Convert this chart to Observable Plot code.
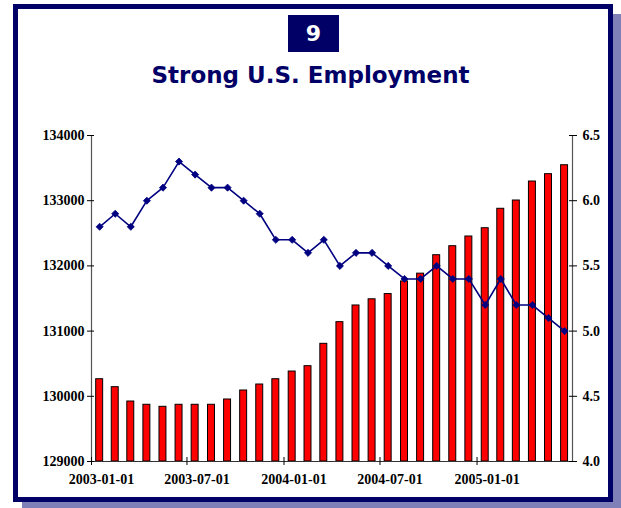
<!DOCTYPE html>
<html>
<head>
<meta charset="utf-8">
<script src="https://cdn.jsdelivr.net/npm/d3@7"></script>
<script src="https://cdn.jsdelivr.net/npm/@observablehq/plot@0.6"></script>
<style>
  body { margin: 0; background: #fff; }
  #wrap { position: relative; width: 621px; height: 508px; overflow: hidden; background: #fff; }
  #frame { position: absolute; left: 13px; top: 4px; width: 600px; height: 498px; box-sizing: border-box;
           border: 5px solid #000066; box-shadow: 9px 10px 0 0 #8080b8; background: #fff; }
  #badge { position: absolute; left: 288px; top: 15px; width: 51px; height: 37px; background: #000066; color: #fff;
           font: bold 22px "DejaVu Sans", sans-serif; display: flex; align-items: center; justify-content: center; }
  #title { position: absolute; left: 0; top: 64px; width: 621px; text-align: center; color: #000066;
           font: bold 23px/23px "DejaVu Sans", sans-serif; }
  #chart { position: absolute; left: 0; top: 100px; }
</style>
</head>
<body>
<div id="wrap">
  <div id="frame"></div>
  <div id="chart"></div>
  <div id="badge">9</div>
  <div id="title">Strong U.S. Employment</div>
</div>
<script>
// ---- data ----
const months = [
  "2003-01","2003-02","2003-03","2003-04","2003-05","2003-06","2003-07","2003-08","2003-09","2003-10","2003-11","2003-12",
  "2004-01","2004-02","2004-03","2004-04","2004-05","2004-06","2004-07","2004-08","2004-09","2004-10","2004-11","2004-12",
  "2005-01","2005-02","2005-03","2005-04","2005-05","2005-06"
];
// nonfarm payroll employment (thousands), left axis
const payrolls = [
  130262, 130140, 129920, 129870, 129839, 129870, 129870, 129870, 129951, 130089, 130181, 130262,
  130380, 130462, 130805, 131137, 131393, 131488, 131568, 131762, 131881, 132164, 132302, 132451,
  132578, 132876, 133003, 133294, 133407, 133544
];
// unemployment rate (%), right axis
const unemployment = [
  5.8, 5.9, 5.8, 6.0, 6.1, 6.3, 6.2, 6.1, 6.1, 6.0, 5.9, 5.7,
  5.7, 5.6, 5.7, 5.5, 5.6, 5.6, 5.5, 5.4, 5.4, 5.5, 5.4, 5.4,
  5.2, 5.4, 5.2, 5.2, 5.1, 5.0
];
const leftTicks = [129000, 130000, 131000, 132000, 133000, 134000];
const rightTicks = [4.0, 4.5, 5.0, 5.5, 6.0, 6.5];
const xTickLabels = ["2003-01-01", "2003-07-01", "2004-01-01", "2004-07-01", "2005-01-01"];
const xDomainLabels = ["2003-01-01", "2005-07-01"];

// ---- mapping of right axis onto left axis ----
const L0 = leftTicks[0], L1 = leftTicks[leftTicks.length - 1];
const R0 = rightTicks[0], R1 = rightTicks[rightTicks.length - 1];
const toLeft = u => L0 + (u - R0) / (R1 - R0) * (L1 - L0);
const fromLeft = v => R0 + (v - L0) / (L1 - L0) * (R1 - R0);

const parseMonth = d3.utcParse("%Y-%m");
const DAY = 864e5;
const HALF = 6.6 * DAY; // half bar width
const rows = months.map((m, i) => {
  const start = parseMonth(m);
  const end = d3.utcMonth.offset(start, 1);
  const mid = new Date((+start + +end) / 2);
  return { mid, x1: new Date(+mid - HALF), x2: new Date(+mid + HALF), payroll: payrolls[i], unemp: unemployment[i] };
});
const xTicks = xTickLabels.map(d => d3.isoParse(d));
const xDomain = xDomainLabels.map(d => d3.isoParse(d));

const chart = Plot.plot({
  width: 621,
  height: 408,
  marginTop: 35,
  marginBottom: 47,
  marginLeft: 91,
  marginRight: 49,
  style: { background: "transparent", fontFamily: "'Liberation Serif', serif", fontSize: "14px", fontWeight: "bold", color: "#000" },
  x: { type: "utc", domain: xDomain },
  y: { domain: [L0, L1] },
  marks: [
    Plot.rect(rows, { x1: "x1", x2: "x2", y1: L0, y2: "payroll", fill: "#ff0000", stroke: "#000", strokeWidth: 1 }),
    Plot.ruleX([xDomain[0], xDomain[1]], { stroke: "#555", strokeWidth: 1.2 }),
    Plot.ruleY([L0], { stroke: "#333", strokeWidth: 1.2 }),
    Plot.line(rows, { x: "mid", y: d => toLeft(d.unemp), stroke: "#000080", strokeWidth: 1.6 }),
    Plot.dot(rows, { x: "mid", y: d => toLeft(d.unemp), symbol: "diamond2", r: 3.2, fill: "#000080", stroke: "#000080", strokeWidth: 0.8 }),
    // left axis
    Plot.axisY(leftTicks, { anchor: "left", label: null, tickSize: 7, dx: 3, tickFormat: () => "" }),
    Plot.axisY(leftTicks, { anchor: "left", label: null, tickSize: 0, tickPadding: 7, tickFormat: d => String(d) }),
    // right axis
    Plot.axisY(rightTicks.map(toLeft), { anchor: "right", label: null, tickSize: 8, dx: -4, tickFormat: () => "" }),
    Plot.axisY(rightTicks.map(toLeft), { anchor: "right", label: null, tickSize: 0, tickPadding: 10, tickFormat: v => fromLeft(v).toFixed(1) }),
    // bottom axis
    Plot.axisX(xTicks, { anchor: "bottom", label: null, tickSize: 8, dy: -4, tickFormat: () => "" }),
    Plot.axisX(xTicks, { anchor: "bottom", label: null, tickSize: 0, tickPadding: 13, dx: 10, tickFormat: d3.utcFormat("%Y-%m-%d") })
  ]
});
document.getElementById("chart").appendChild(chart);
</script>
</body>
</html>
